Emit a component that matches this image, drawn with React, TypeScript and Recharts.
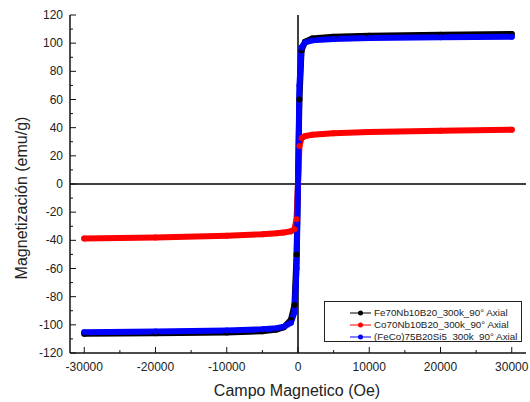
import React from 'react';
import { LineChart, Line, XAxis, YAxis, ReferenceLine } from 'recharts';

const FONT = '"Liberation Sans", Arial, Helvetica, sans-serif';

// Applied field (Oe)
const fieldOe = [-30000, -20000, -10000, -5000, -3000, -2000, -1000, -500, -200, 0, 200, 500, 1000, 2000, 5000, 10000, 20000, 30000];
// Magnetization (emu/g)
const feNbB = [-106.3, -106.0, -105.4, -104.6, -103.4, -101.8, -96.5, -86, -50, 0, 60, 95, 101, 103.3, 104.6, 105.3, 106.0, 106.5];
const coNbB = [-38.7, -37.9, -36.7, -35.7, -35.0, -34.5, -33.6, -32.2, -25, 0, 27, 32.6, 34.0, 35.0, 36.0, 37.0, 37.8, 38.6];
const feCoBSi = [-105.2, -104.8, -104.0, -103.2, -102.4, -101.4, -98.5, -91, -60, 0, 70, 97, 100.6, 102.0, 103.0, 103.7, 104.2, 104.6];

const seriesNames = [
  'Fe70Nb10B20_300k_90\u00b0 Axial',
  'Co70Nb10B20_300k_90\u00b0 Axial',
  '(FeCo)75B20Si5_300k_90\u00b0 Axial',
];
const seriesColors = ['#000000', '#ff0000', '#0000ff'];

const xTicks = [-30000, -25000, -20000, -15000, -10000, -5000, 0, 5000, 10000, 15000, 20000, 25000, 30000];
const yTicks = [-120, -110, -100, -90, -80, -70, -60, -50, -40, -30, -20, -10, 0, 10, 20, 30, 40, 50, 60, 70, 80, 90, 100, 110, 120];

const xLabel = 'Campo Magnetico (Oe)';
const yLabel = 'Magnetizaci\u00f3n (emu/g)';

const xDomain = [-32000, 32000];
const yDomain = [-120, 120];

const data = fieldOe.map((x, i) => ({ x, fe: feNbB[i], co: coNbB[i], feco: feCoBSi[i] }));

const AXIS = '#111';
const TEXT = '#222';

const XTickBottom = (props: any) => {
  const { x, y, payload } = props;
  const major = payload.value % 10000 === 0;
  return (
    <g>
      <line x1={x} x2={x} y1={y} y2={y - (major ? 6 : 3)} stroke={AXIS} strokeWidth={1} />
      {major && (
        <text x={x} y={y + 18} textAnchor="middle" fontFamily={FONT} fontSize={12} fill={TEXT}>
          {payload.value}
        </text>
      )}
    </g>
  );
};

const XTickTop = (props: any) => {
  const { x, y, payload } = props;
  const major = payload.value % 10000 === 0;
  return <line x1={x} x2={x} y1={y} y2={y + (major ? 6 : 3)} stroke={AXIS} strokeWidth={1} />;
};

const YTickLeft = (props: any) => {
  const { x, y, payload } = props;
  const major = payload.value % 20 === 0;
  return (
    <g>
      <line x1={x} x2={x + (major ? 6 : 3)} y1={y} y2={y} stroke={AXIS} strokeWidth={1} />
      {major && (
        <text x={x - 7} y={y + 4} textAnchor="end" fontFamily={FONT} fontSize={12} fill={TEXT}>
          {payload.value}
        </text>
      )}
    </g>
  );
};

const YTickRight = (props: any) => {
  const { x, y, payload } = props;
  const major = payload.value % 20 === 0;
  return <line x1={x} x2={x - (major ? 6 : 3)} y1={y} y2={y} stroke={AXIS} strokeWidth={1} />;
};

const YLabel = (props: any) => {
  const vb = props.viewBox || { x: 0, y: 0, width: 0, height: 0 };
  const cx = vb.x + 27;
  const cy = vb.y + vb.height / 2 + 14;
  return (
    <text
      x={cx}
      y={cy}
      transform={`rotate(-90 ${cx} ${cy})`}
      textAnchor="middle"
      fontFamily={FONT}
      fontSize={16}
      fill={TEXT}
    >
      {yLabel}
    </text>
  );
};

const XLabel = (props: any) => {
  const vb = props.viewBox || { x: 0, y: 0, width: 0, height: 0 };
  return (
    <text x={vb.x + vb.width / 2 - 1} y={vb.y + 43} textAnchor="middle" fontFamily={FONT} fontSize={16} fill={TEXT}>
      {xLabel}
    </text>
  );
};

const LegendBox = () => (
  <div
    style={{
      position: 'absolute',
      left: 324,
      top: 301,
      border: '1px solid #222',
      background: '#fff',
      boxSizing: 'border-box',
      width: 198,
      height: 41,
      paddingTop: 5,
      paddingLeft: 25,
      fontFamily: FONT,
      fontSize: 9.8,
      color: TEXT,
    }}
  >
    {seriesNames.map((name, i) => (
      <div key={name} style={{ display: 'flex', alignItems: 'center', height: 12, lineHeight: '12px', whiteSpace: 'nowrap' }}>
        <svg width={22} height={8} style={{ marginRight: 2 }}>
          <line x1={0} x2={21} y1={4} y2={4} stroke={seriesColors[i]} strokeWidth={1} />
          <circle cx={10.5} cy={4} r={2.5} fill={seriesColors[i]} />
        </svg>
        <span>{name}</span>
      </div>
    ))}
  </div>
);

export default function App() {
  return (
    <div style={{ position: 'absolute', left: 0, top: 0, width: 530, height: 402, background: '#fff' }}>
      <LineChart width={530} height={402} data={data} margin={{ top: 15, right: 4, bottom: 0, left: 0 }}>
        <XAxis
          dataKey="x"
          type="number"
          domain={xDomain}
          allowDataOverflow
          ticks={xTicks}
          interval={0}
          tick={<XTickBottom />}
          tickSize={0}
          tickMargin={0}
          tickLine={false}
          axisLine={{ stroke: AXIS, strokeWidth: 1.5 }}
          height={49}
          label={<XLabel />}
        />
        <XAxis
          xAxisId="top"
          orientation="top"
          dataKey="x"
          type="number"
          domain={xDomain}
          allowDataOverflow
          ticks={xTicks}
          interval={0}
          tick={<XTickTop />}
          tickSize={0}
          tickMargin={0}
          tickLine={false}
          axisLine={{ stroke: AXIS, strokeWidth: 1.5 }}
          height={0}
        />
        <YAxis
          type="number"
          domain={yDomain}
          allowDataOverflow
          ticks={yTicks}
          interval={0}
          tick={<YTickLeft />}
          tickSize={0}
          tickMargin={0}
          tickLine={false}
          axisLine={{ stroke: AXIS, strokeWidth: 1.5 }}
          width={70}
          label={<YLabel />}
        />
        <YAxis
          yAxisId="right"
          orientation="right"
          type="number"
          domain={yDomain}
          allowDataOverflow
          ticks={yTicks}
          interval={0}
          tick={<YTickRight />}
          tickSize={0}
          tickMargin={0}
          tickLine={false}
          axisLine={{ stroke: AXIS, strokeWidth: 1.5 }}
          width={0}
        />
        <ReferenceLine x={0} stroke="#000" strokeWidth={1.5} />
        <ReferenceLine y={0} stroke="#000" strokeWidth={1.5} />
        <Line
          dataKey="fe"
          name={seriesNames[0]}
          stroke={seriesColors[0]}
          strokeWidth={6}
          strokeLinecap="round"
          dot={{ r: 3, fill: seriesColors[0], stroke: 'none' }}
          isAnimationActive={false}
        />
        <Line
          dataKey="co"
          name={seriesNames[1]}
          stroke={seriesColors[1]}
          strokeWidth={6}
          strokeLinecap="round"
          dot={{ r: 3, fill: seriesColors[1], stroke: 'none' }}
          isAnimationActive={false}
        />
        <Line
          dataKey="feco"
          name={seriesNames[2]}
          stroke={seriesColors[2]}
          strokeWidth={6}
          strokeLinecap="round"
          dot={{ r: 3, fill: seriesColors[2], stroke: 'none' }}
          isAnimationActive={false}
        />
      </LineChart>
      <LegendBox />
    </div>
  );
}
